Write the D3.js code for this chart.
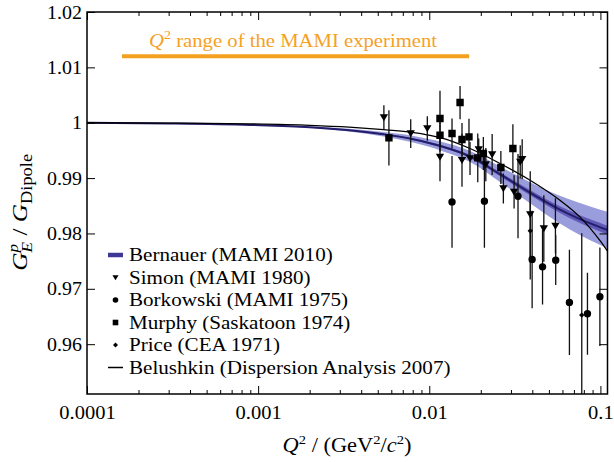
<!DOCTYPE html>
<html><head><meta charset="utf-8">
<script src="https://cdn.jsdelivr.net/npm/d3@7"></script>
<style>
html,body{margin:0;padding:0;background:#fff;}
svg{display:block;font-family:"Liberation Serif","DejaVu Serif",serif;}
</style></head>
<body><svg id="c" width="614" height="462"></svg>
<script>
// ---------- data ----------
const xTickValues = [0.0001, 0.001, 0.01, 0.1];
const xTickLabels = ["0.0001", "0.001", "0.01", "0.1"];
const yTickValues = [0.96, 0.97, 0.98, 0.99, 1.00, 1.01, 1.02];
const yTickLabels = ["0.96", "0.97", "0.98", "0.99", "1", "1.01", "1.02"];

const curveQ2      = [0.0001,0.0003,0.0009,0.002,0.0034,0.0054,0.0077,0.0101,0.0116,0.0173,0.0259,0.0388,0.058,0.0758,0.1,0.11];
const bernauerGE   = [1.0,0.99987,0.9996,0.9992,0.99865,0.99792,0.99715,0.9963,0.9958,0.9939,0.9907,0.98736,0.9843,0.9826,0.9811,0.9806];
const bernauerOuter= [0,0.00002,0.00006,0.00013,0.00025,0.0004,0.0006,0.0007,0.0008,0.001,0.0014,0.0019,0.0025,0.0029,0.0032,0.0033];
const bernauerInner= [0,0.00001,0.00002,0.00004,0.00007,0.0001,0.00015,0.00018,0.0002,0.00025,0.00035,0.00048,0.0006,0.0007,0.0008,0.0008];
const belushkinGE  = [1.0,0.99993,0.99979,0.99953,0.9992,0.99875,0.9983,0.99772,0.9973,0.99534,0.99264,0.98962,0.98601,0.983,0.9786,0.97681];

const simonQ2  = [0.00543,0.00779,0.00974,0.01155,0.01553,0.0173,0.01945,0.0214,0.0233,0.0271,0.0313,0.0340,0.0349,0.0389,0.0467,0.0546];
const simonGE  = [1.00094,0.99805,0.99895,0.99383,0.99323,0.99354,0.99516,0.99245,0.99426,0.98812,0.98751,0.99292,0.99341,0.98343,0.98090,0.98137];
const simonErr = [0.0022,0.0026,0.0022,0.0044,0.0048,0.003,0.002,0.003,0.0037,0.0027,0.003,0.003,0.0036,0.0078,0.006,0.005];

const borkQ2  = [0.01358,0.0210,0.0330,0.0399,0.0459,0.0548,0.0659,0.0840,0.0993];
const borkGE  = [0.98570,0.98583,0.98673,0.97531,0.97397,0.97518,0.96755,0.96549,0.96856];
const borkErr = [0.0083,0.0084,0.0076,0.0088,0.0068,0.0045,0.0095,0.0074,0.0089];

const murphyQ2  = [0.00581,0.01155,0.01155,0.01358,0.01513,0.01553,0.01706,0.0192,0.0207,0.0262,0.0308];
const murphyGE  = [0.99726,1.00076,0.99774,0.99805,1.00365,0.99697,0.99744,0.99365,0.99444,0.99191,0.99534];
const murphyErr = [0.005,0.005,0.003,0.0027,0.003,0.003,0.0033,0.0044,0.003,0.003,0.0044];

const priceQ2  = [0.0389,0.0778];
const priceGE  = [0.98047,0.96525];
const priceErr = [0.0088,0.0148];

const mamiRange = [0.00016, 0.0171];
const mamiLevel = 1.012;

const legendLabels = ["Bernauer (MAMI 2010)","Simon (MAMI 1980)","Borkowski (MAMI 1975)","Murphy (Saskatoon 1974)","Price (CEA 1971)","Belushkin (Dispersion Analysis 2007)"];

// ---------- drawing ----------
const svg = d3.select("#c");
const L = 87, R = 607.5, T = 12, B = 394;
const x = d3.scaleLog().domain([0.0001, 0.11]).range([L, R]);
const y = d3.scaleLinear().domain([0.951, 1.02]).range([B, T]);

const defs = svg.append("defs");
defs.append("clipPath").attr("id","clip").append("rect")
  .attr("x",L).attr("y",T).attr("width",R-L).attr("height",B-T);

const plot = svg.append("g").attr("clip-path","url(#clip)");

const cdata = curveQ2.map((q,i)=>({q, b:bernauerGE[i], o:bernauerOuter[i], n:bernauerInner[i], k:belushkinGE[i]}));

plot.append("path").datum(cdata)
  .attr("d", d3.area().x(d=>x(d.q)).y0(d=>y(d.b-d.o)).y1(d=>y(d.b+d.o)).curve(d3.curveMonotoneX))
  .attr("fill","#9a9ddb");
plot.append("path").datum(cdata)
  .attr("d", d3.area().x(d=>x(d.q)).y0(d=>y(d.b-d.n)).y1(d=>y(d.b+d.n)).curve(d3.curveMonotoneX))
  .attr("fill","#5f5ab5");
plot.append("path").datum(cdata)
  .attr("d", d3.line().x(d=>x(d.q)).y(d=>y(d.b)).curve(d3.curveMonotoneX))
  .attr("fill","none").attr("stroke","#241d6b").attr("stroke-width",2);
plot.append("path").datum(cdata)
  .attr("d", d3.line().x(d=>x(d.q)).y(d=>y(d.k)).curve(d3.curveMonotoneX))
  .attr("fill","none").attr("stroke","#000").attr("stroke-width",1.3);

function series(qs, vs, es){ return qs.map((q,i)=>({q, v:vs[i], e:es[i]})); }
const sets = [
  {d:series(simonQ2,simonGE,simonErr), m:"tri"},
  {d:series(borkQ2,borkGE,borkErr), m:"circ"},
  {d:series(murphyQ2,murphyGE,murphyErr), m:"sq"},
  {d:series(priceQ2,priceGE,priceErr), m:"dia"}
];
sets.forEach(s=>{
  plot.append("g").selectAll("line").data(s.d).join("line")
    .attr("x1",d=>x(d.q)).attr("x2",d=>x(d.q))
    .attr("y1",d=>y(d.v-d.e)).attr("y2",d=>y(d.v+d.e))
    .attr("stroke","#111").attr("stroke-width",1.3);
});
function markerPath(m, s){
  if(m==="tri") return `M${-s*0.55},${-s*0.42}L${s*0.55},${-s*0.42}L0,${s*0.5}Z`;
  if(m==="sq") return `M${-s/2},${-s/2}h${s}v${s}h${-s}Z`;
  if(m==="dia") return `M0,${-s/2}L${s/2},0L0,${s/2}L${-s/2},0Z`;
  return d3.arc()({innerRadius:0,outerRadius:s/2,startAngle:0,endAngle:2*Math.PI});
}
const msize = {tri:7.6, circ:7.4, sq:7.4, dia:5.4};
sets.forEach(s=>{
  plot.append("g").selectAll("path").data(s.d).join("path")
    .attr("transform",d=>`translate(${x(d.q)},${y(d.v)})`)
    .attr("d", markerPath(s.m, msize[s.m]))
    .attr("fill","#000");
});

// MAMI range bar
svg.append("line").attr("x1",x(mamiRange[0])).attr("x2",x(mamiRange[1]))
  .attr("y1",y(mamiLevel)).attr("y2",y(mamiLevel))
  .attr("stroke","#f5a11f").attr("stroke-width",4);

// rich text helper
function rich(g, parts, opts){
  const t = g.append("text").attr("font-size",opts.size).attr("fill",opts.fill||"#000")
    .attr("xml:space","preserve");
  parts.forEach(p=>{
    const ts = t.append("tspan").text(p.t);
    if(p.i) ts.attr("font-style","italic");
    if(p.s) ts.attr("font-size",p.s);
    if(p.dy) ts.attr("dy",p.dy);
    if(p.dx) ts.attr("dx",p.dx);
  });
  const w = t.node().getComputedTextLength();
  if(opts.anchor==="middle") t.attr("x",-w/2);
  return t;
}

// title text
const tg = svg.append("g").attr("transform",`translate(293,47) scale(1.09,1)`);
rich(tg,[{t:"Q",i:1},{t:"2",s:13,dy:-8},{t:" range of the MAMI experiment",dy:8}],{size:19,fill:"#f5a11f",anchor:"middle"});

// axes
const major = g=>g.selectAll(".domain").remove();
svg.append("g").attr("transform",`translate(0,${B})`)
  .call(d3.axisBottom(x).tickValues(xTickValues).tickSize(-8).tickPadding(12).tickFormat((d,i)=>xTickLabels[i]))
  .call(major).call(g=>g.selectAll("text").attr("font-size",19).attr("font-family","Liberation Serif").attr("fill","#000")
     .attr("transform","scale(1.08,1)"));
const minorVals = [];
[0.0001,0.001,0.01].forEach(dec=>{for(let k=2;k<=9;k++) minorVals.push(dec*k);});
svg.append("g").attr("transform",`translate(0,${B})`)
  .call(d3.axisBottom(x).tickValues(minorVals).tickSize(-4).tickFormat("")).call(major);
svg.append("g").attr("transform",`translate(0,${T})`)
  .call(d3.axisTop(x).tickValues(xTickValues).tickSize(-8).tickFormat("")).call(major);
svg.append("g").attr("transform",`translate(0,${T})`)
  .call(d3.axisTop(x).tickValues(minorVals).tickSize(-4).tickFormat("")).call(major);
svg.append("g").attr("transform",`translate(${L},0)`)
  .call(d3.axisLeft(y).tickValues(yTickValues).tickSize(-8).tickPadding(5).tickFormat((d,i)=>yTickLabels[i]))
  .call(major).call(g=>g.selectAll("text").attr("font-size",19).attr("font-family","Liberation Serif").attr("fill","#000")
     .attr("x",0).attr("transform","translate(-5,0) scale(1.05,1)"));
svg.append("g").attr("transform",`translate(${R},0)`)
  .call(d3.axisRight(y).tickValues(yTickValues).tickSize(-8).tickFormat("")).call(major);
svg.selectAll(".tick line").attr("stroke","#000").attr("stroke-width",1);

svg.append("rect").attr("x",L).attr("y",T).attr("width",R-L).attr("height",B-T)
  .attr("fill","none").attr("stroke","#000").attr("stroke-width",1.5);

// axis titles
const xl = svg.append("g").attr("transform","translate(347,452) scale(1.12,1)");
rich(xl,[{t:"Q",i:1},{t:"2",s:13,dy:-8},{t:" / (GeV",dy:8},{t:"2",s:13,dy:-8},{t:"/",dy:8},{t:"c",i:1},{t:"2",s:13,dy:-8},{t:")",dy:8}],{size:20,anchor:"middle"});

const yl = svg.append("g").attr("transform","translate(27,208) rotate(-90) scale(1.15,1)");
rich(yl,[{t:"G",i:1},{t:"p",i:1,s:15,dy:-9},{t:"E",i:1,s:15,dy:14,dx:-7.5},{t:" / ",dy:-5},{t:"G",i:1},{t:"Dipole",s:16,dy:5}],{size:22,anchor:"middle"});

// legend
const lg = svg.append("g");
const ly0 = 255, ldy = 22.5;
legendLabels.forEach((lab,i)=>{
  const yy = ly0 + i*ldy;
  lg.append("text").attr("transform",`translate(129,${yy+6}) scale(1.11,1)`).attr("font-size",19).text(lab);
});
lg.append("line").attr("x1",108).attr("x2",123).attr("y1",ly0).attr("y2",ly0).attr("stroke","#3d3896").attr("stroke-width",4.5);
["tri","circ","sq","dia"].forEach((m,i)=>{
  const sz = {tri:5.6,circ:5.6,sq:5.6,dia:5}[m];
  lg.append("path").attr("transform",`translate(115.5,${ly0+(i+1)*ldy})`).attr("d",markerPath(m,sz)).attr("fill","#000");
});
lg.append("line").attr("x1",108).attr("x2",123).attr("y1",ly0+5*ldy).attr("y2",ly0+5*ldy).attr("stroke","#000").attr("stroke-width",1.5);
</script></body></html>
